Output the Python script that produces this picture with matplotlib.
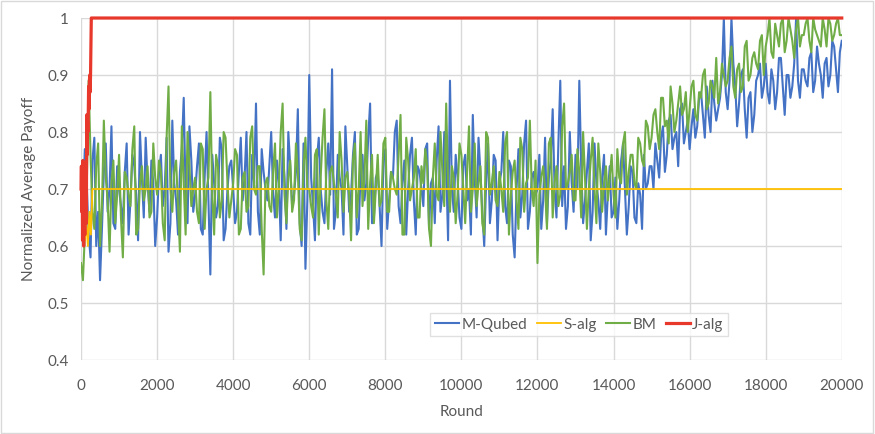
import numpy as np
import matplotlib
matplotlib.use("Agg")
import matplotlib.pyplot as plt
from matplotlib.patches import Rectangle

plt.rcParams['font.family'] = ['Lato', 'DejaVu Sans']

# noisy series are read every 50 rounds: the "even" lists hold rounds 0,100,...,20000,
# the "odd" lists hold rounds 50,150,...,19950 (values in hundredths)
rounds_even = np.arange(0, 20001, 100)
rounds_odd = np.arange(50, 20000, 100)

mqubed_even = [72, 77, 62, 75, 60, 54, 73, 66, 81, 63,
               70, 64, 78, 68, 74, 61, 72, 79, 66, 71,
               65, 76, 70, 59, 82, 68, 73, 86, 64, 75,
               69, 78, 62, 80, 55, 71, 67, 77, 63, 74,
               70, 66, 79, 72, 64, 76, 85, 62, 73, 68,
               80, 65, 71, 77, 63, 74, 69, 84, 60, 56,
               90, 67, 75, 70, 64, 78, 91, 66, 72, 62,
               74, 69, 80, 63, 76, 71, 85, 65, 73, 60,
               77, 68, 72, 82, 64, 75, 70, 79, 62, 73,
               67, 78, 71, 64, 81, 69, 74, 89, 66, 72,
               63, 76, 70, 83, 65, 73, 60, 78, 68, 75,
               71, 80, 64, 74, 58, 77, 69, 82, 66, 73,
               70, 63, 79, 72, 84, 65, 89, 74, 67, 71,
               76, 89, 64, 73, 61, 78, 68, 72, 62, 74,
               66, 63, 75, 70, 67, 73, 64, 69, 76, 71,
               74, 78, 72, 81, 76, 83, 79, 74, 85, 80,
               77, 84, 81, 87, 79, 83, 89, 82, 86, 100,
               84, 100, 88, 85, 91, 79, 87, 83, 90, 86,
               92, 85, 89, 87, 93, 83, 90, 88, 100, 86,
               91, 88, 94, 89, 92, 86, 93, 90, 95, 87,
               96]
mqubed_odd = [68, 71, 58, 79, 66, 63, 78, 70, 64, 74,
              67, 73, 62, 76, 69, 80, 65, 71, 75, 60,
              73, 67, 79, 64, 71, 62, 77, 69, 81, 66,
              74, 63, 72, 68, 76, 65, 79, 61, 70, 75,
              64, 73, 68, 80, 62, 71, 66, 77, 70, 74,
              69, 75, 61, 72, 80, 67, 73, 64, 78, 68,
              72, 61, 79, 66, 73, 69, 63, 76, 70, 81,
              66, 76, 62, 73, 68, 79, 64, 72, 67, 75,
              63, 73, 80, 67, 71, 62, 76, 68, 74, 70,
              77, 63, 72, 75, 66, 80, 61, 70, 76, 65,
              74, 68, 62, 72, 79, 66, 71, 64, 76, 61,
              73, 67, 75, 62, 70, 65, 78, 63, 72, 69,
              76, 68, 64, 75, 70, 78, 67, 63, 80, 66,
              70, 74, 68, 78, 66, 71, 63, 76, 69, 65,
              72, 68, 78, 62, 74, 65, 71, 63, 70, 74,
              70, 75, 79, 73, 82, 77, 80, 84, 78, 82,
              81, 79, 86, 83, 88, 80, 85, 84, 90, 87,
              89, 92, 81, 90, 84, 86, 80, 89, 92, 88,
              87, 91, 84, 93, 88, 90, 86, 92, 89, 91,
              89, 93, 87, 95, 90, 92, 88, 96, 91, 94]

bm_even = [57, 62, 89, 66, 74, 60, 82, 68, 71, 64,
           76, 58, 72, 67, 81, 63, 74, 70, 65, 78,
           69, 73, 61, 88, 66, 75, 59, 71, 80, 67,
           72, 64, 77, 70, 87, 62, 74, 68, 79, 65,
           71, 76, 63, 73, 67, 81, 69, 74, 55, 72,
           66, 78, 70, 85, 64, 75, 68, 73, 61, 79,
           70, 65, 77, 72, 84, 63, 74, 69, 80, 66,
           73, 61, 78, 70, 67, 82, 71, 64, 76, 68,
           79, 66, 72, 69, 83, 62, 75, 70, 77, 65,
           71, 74, 60, 78, 68, 73, 85, 66, 72, 69,
           76, 64, 81, 70, 67, 74, 62, 79, 71, 68,
           73, 66, 80, 69, 75, 63, 77, 71, 82, 67,
           57, 72, 70, 78, 65, 74, 69, 85, 71, 76,
           68, 73, 80, 63, 75, 70, 78, 66, 74, 72,
           69, 77, 71, 80, 73, 76, 70, 78, 74, 81,
           79, 84, 77, 86, 82, 88, 80, 85, 83, 87,
           84, 89, 82, 86, 91, 85, 88, 93, 87, 90,
           89, 95, 86, 92, 88, 96, 90, 94, 91, 97,
           95, 100, 93, 97, 99, 94, 100, 96, 98, 95,
           97, 100, 94, 98, 96, 100, 95, 99, 97, 100,
           97]
bm_odd = [54, 70, 76, 63, 78, 67, 72, 59, 75, 69,
          65, 73, 69, 77, 62, 71, 68, 74, 66, 72,
          75, 64, 79, 70, 73, 67, 81, 62, 74, 70,
          66, 78, 63, 72, 69, 76, 65, 80, 71, 68,
          77, 62, 72, 66, 79, 70, 74, 63, 71, 67,
          73, 65, 80, 69, 72, 66, 78, 63, 74, 70,
          67, 76, 62, 79, 68, 73, 71, 65, 75, 72,
          69, 75, 65, 80, 72, 63, 76, 70, 67, 78,
          66, 73, 70, 76, 62, 79, 68, 72, 65, 74,
          77, 63, 72, 69, 80, 67, 71, 74, 64, 78,
          70, 73, 66, 78, 71, 64, 80, 69, 74, 67,
          70, 78, 62, 73, 68, 79, 66, 72, 70, 75,
          69, 74, 63, 79, 71, 67, 81, 70, 73, 68,
          77, 65, 72, 70, 79, 64, 73, 71, 68, 76,
          65, 72, 78, 69, 76, 71, 79, 75, 82, 77,
          83, 80, 86, 81, 78, 85, 82, 88, 84, 80,
          88, 83, 87, 90, 84, 89, 86, 85, 92, 88,
          93, 88, 91, 87, 95, 89, 93, 92, 96, 90,
          97, 94, 99, 95, 100, 96, 98, 93, 100, 97,
          99, 96, 100, 97, 95, 98, 100, 96, 99, 97]

# S-alg
salg_rounds = [100, 140, 180, 220, 260, 300, 20000]
salg = [0.61, 0.64, 0.60, 0.66, 0.62, 0.70, 0.70]

# J-alg
jalg_rounds = [0, 10, 20, 30, 40, 50, 60, 70, 80, 90, 100, 110, 120, 130, 140,
               150, 160, 170, 180, 190, 200, 210, 220, 230, 240, 250, 260, 270,
               280, 300, 20000]
jalg = [0.70, 0.74, 0.66, 0.73, 0.61, 0.75, 0.63, 0.60, 0.72, 0.65, 0.62, 0.74,
        0.67, 0.71, 0.64, 0.83, 0.76, 0.82, 0.80, 0.83, 0.88, 0.84, 0.89, 0.90,
        0.87, 0.90, 0.95, 1.0, 1.0, 1.0, 1.0]


def merge(even, odd):
    out = np.empty(len(even) + len(odd))
    out[0::2] = even
    out[1::2] = odd
    return out / 100


rounds = merge(rounds_even, rounds_odd) * 100
mq = merge(mqubed_even, mqubed_odd)
bm_v = merge(bm_even, bm_odd)

fig = plt.figure(figsize=(8.75, 4.34), dpi=100)
ax = fig.add_axes([0.0926, 0.1705, 0.8694, 0.788])

ax.plot(rounds, mq, color='#4472C4', lw=1.5, label='M-Qubed', zorder=2)
ax.plot(salg_rounds, salg, color='#FFC000', lw=1.3, label='S-alg', zorder=4)
ax.plot(rounds, bm_v, color='#70AD47', lw=1.5, label='BM', zorder=3)
ax.plot(jalg_rounds, jalg, color='#E8382C', lw=2.3, label='J-alg', zorder=5,
        clip_on=False)

ax.set_xlim(0, 20000)
ax.set_ylim(0.4, 1.0)
ax.set_xticks(np.arange(0, 20001, 2000))
ax.set_yticks([0.4, 0.5, 0.6, 0.7, 0.8, 0.9, 1.0])
ax.set_yticklabels(['0.4', '0.5', '0.6', '0.7', '0.8', '0.9', '1'])
ax.grid(True, color='#d9d9d9', lw=1)
ax.set_axisbelow(True)
for s in ax.spines.values():
    s.set_visible(False)
ax.tick_params(length=0, colors='#595959', labelsize=11)
ax.tick_params(axis='x', pad=14)
ax.tick_params(axis='y', pad=9)
ax.set_xlabel('Round', color='#595959', fontsize=11, labelpad=8)
ax.set_ylabel('Normalized Average Payoff', color='#595959', fontsize=11, labelpad=8)

leg = ax.legend(ncol=4, loc='center', bbox_to_anchor=(0.655, 0.103),
                frameon=True, fancybox=False, fontsize=11, handlelength=1.6,
                handletextpad=0.15, columnspacing=0.6, borderpad=0.3)
leg.get_frame().set_edgecolor('#d9d9d9')
leg.get_frame().set_linewidth(1)
for t in leg.get_texts():
    t.set_color('#595959')

fig.patches.append(Rectangle((0.001, 0.002), 0.997, 0.995, transform=fig.transFigure,
                             fill=False, edgecolor='#d9d9d9', lw=1))

fig.savefig('out.png', dpi=100)
